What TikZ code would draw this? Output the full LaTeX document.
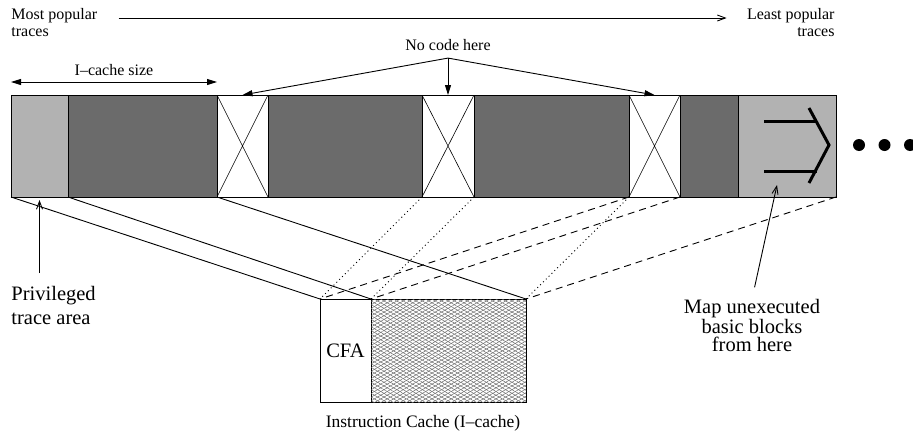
\documentclass[tikz,border=0pt]{standalone}
\usepackage{fontspec}
\setmainfont{Liberation Serif}
\usepackage{tikz}
\usetikzlibrary{arrows.meta, positioning, calc, patterns.meta}
\definecolor{coldgray}{gray}{0.70}
\definecolor{hotgray}{gray}{0.42}
\newcommand{\notefont}{\fontsize{16}{17}\selectfont}
\newcommand{\callfont}{\fontsize{20.5}{24}\selectfont}
\newcommand{\mapfont}{\fontsize{20.5}{18.5}\selectfont}
\newcommand{\capfont}{\fontsize{17.5}{20}\selectfont}

\begin{document}
\begin{tikzpicture}[x=1pt, y=-1pt, >={Straight Barb[length=8pt,width=6pt]}, line width=0.9pt,
    seg/.style={draw, inner sep=0pt, outer sep=0pt, minimum height=102pt},
    coldseg/.style={seg, fill=coldgray},
    hotseg/.style={seg, fill=hotgray},
    gapseg/.style={seg, fill=white, path picture={
        \draw[line width=0.6pt] (path picture bounding box.north west) -- (path picture bounding box.south east)
                                (path picture bounding box.south west) -- (path picture bounding box.north east);}},
    tri/.style={-{Triangle[length=10pt,width=6pt]}},
    dotmap/.style={dash pattern=on 1pt off 3pt},
    dashmap/.style={dash pattern=on 7pt off 5pt}]
    \useasboundingbox (0,0) rectangle (913,434);

    % trace layout
    \node[coldseg, minimum width=57pt, anchor=north west] (priv) at (11,95) {};
    \node[hotseg, minimum width=149pt, right=0pt of priv] (hot1) {};
    \node[gapseg, minimum width=51pt, right=0pt of hot1] (gap1) {};
    \node[hotseg, minimum width=154pt, right=0pt of gap1] (hot2) {};
    \node[gapseg, minimum width=52pt, right=0pt of hot2] (gap2) {};
    \node[hotseg, minimum width=155pt, right=0pt of gap2] (hot3) {};
    \node[gapseg, minimum width=51pt, right=0pt of hot3] (gap3) {};
    \node[hotseg, minimum width=58pt, right=0pt of gap3] (hot4) {};
    \node[coldseg, minimum width=98pt, right=0pt of hot4] (cold) {};

    \draw[line width=3pt] (764,121) -- (817,121) (764,171) -- (817,171);
    \draw[line width=3pt] (809,108) -- (829,145) -- (809,183);
    \foreach \x in {859,884.5,910} \fill (\x,145) circle (6pt);

    % popularity
    \node[anchor=north west, align=left, font=\notefont, inner sep=0pt] (most) at (11,8) {Most popular\\traces};
    \node[anchor=north east, align=right, font=\notefont, inner sep=0pt] (least) at (835,8) {Least popular\\traces};
    \draw[->, shorten <=21pt, shorten >=20pt] ([yshift=-10pt]most.north east) -- ([yshift=-10pt]least.north west);

    \draw[{Triangle[length=10pt,width=6pt]}-{Triangle[length=10pt,width=6pt]}] ([yshift=13pt]priv.north west)
        -- node[above=6pt, font=\notefont, inner sep=0pt] {I--cache size} ([yshift=13pt]hot1.north east);

    \node[font=\notefont, inner sep=0pt] (nohere) at (448,45) {No code here};
    \coordinate[below=7pt of nohere.south] (fork);
    \draw[tri] (fork) -- (gap1.north);
    \draw[tri] (fork) -- (gap2.north);
    \draw[tri] (fork) -- (gap3.north);

    % instruction cache
    \node[seg, minimum width=51pt, minimum height=103pt, anchor=north west, font=\callfont] (cfa) at (320,299) {CFA};
    \node[seg, minimum width=155pt, minimum height=103pt, right=0pt of cfa,
        pattern={Lines[angle=30,distance=3.2pt,line width=0.5pt]}, pattern color=gray!85!black,
        postaction={pattern={Lines[angle=-30,distance=3.2pt,line width=0.5pt]}, pattern color=gray!85!black}] (icache) {};
    \node[below=13pt, font=\capfont, inner sep=0pt] (capt) at ($(cfa.south west)!.5!(icache.south east)$) {Instruction Cache (I--cache)};

    \draw (priv.south west) -- (cfa.north west);
    \draw (priv.south east) -- (cfa.north east);
    \draw (hot1.south east) -- (icache.north east);
    \draw[dotmap] (gap2.south west) -- (cfa.north west);
    \draw[dotmap] (hot3.south west) -- (icache.north west);
    \draw[dotmap] (hot3.south east) -- (icache.north east);
    \draw[dashmap] (gap3.south west) -- (cfa.north west);
    \draw[dashmap] (hot4.south west) -- (icache.north west);
    \draw[dashmap] (cold.south east) -- (icache.north east);

    % callouts
    \node[anchor=north west, align=left, font=\callfont, inner sep=0pt] (privtxt) at (11,286) {Privileged\\trace area};
    \draw[->, shorten <=13pt, shorten >=3pt] (privtxt.north -| priv.south) -- (priv.south);

    \node[anchor=north, align=center, font=\mapfont, inner sep=0pt] (maptxt) at (752,299) {Map unexecuted\\basic blocks\\from here};
    \draw[->, shorten <=12pt] (maptxt.north) -- ([xshift=-10pt,yshift=12pt]cold.south);
\end{tikzpicture}
\end{document}
